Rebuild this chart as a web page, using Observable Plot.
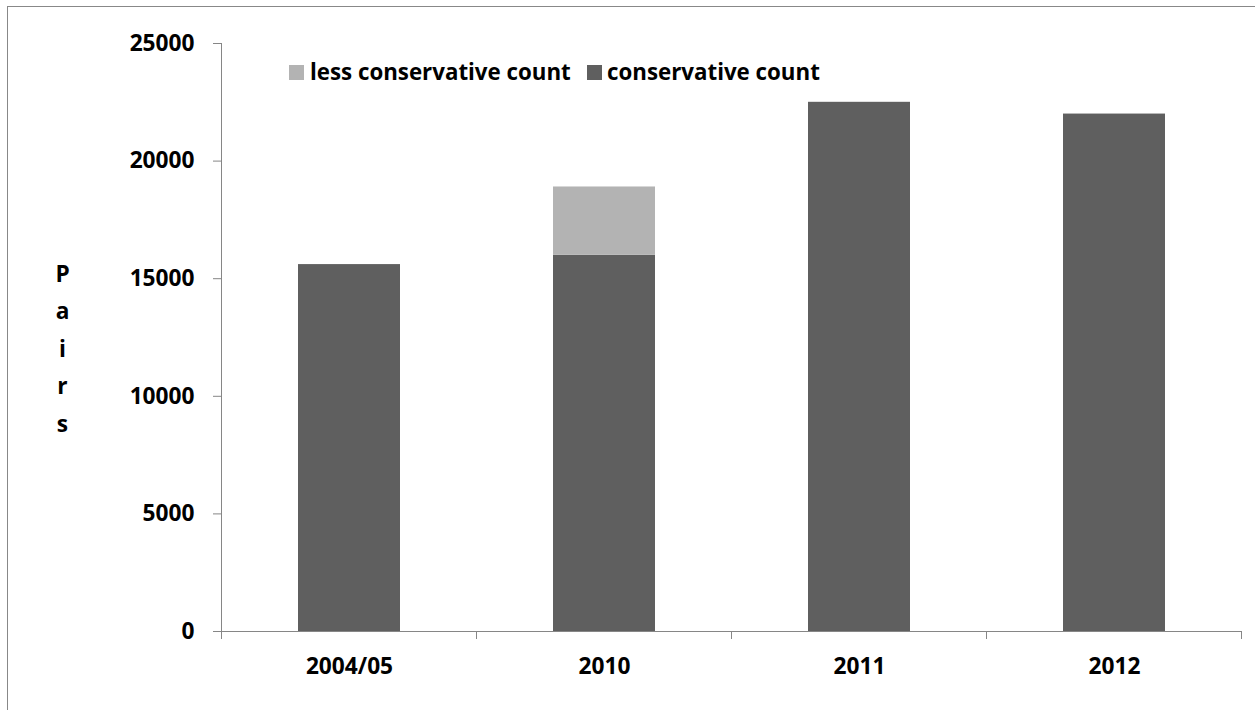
<!DOCTYPE html>
<html><head><meta charset="utf-8">
<script src="https://cdn.jsdelivr.net/npm/d3@7"></script>
<script src="https://cdn.jsdelivr.net/npm/@observablehq/plot@0.6"></script>
<style>
html,body{margin:0;padding:0;background:#fff;}
#wrap{position:relative;width:1255px;height:710px;overflow:hidden;}
#border{position:absolute;left:7px;top:6px;width:1300px;height:800px;border-left:1px solid #888;border-top:1px solid #888;pointer-events:none;}
</style></head><body>
<div id="wrap"><div id="border"></div></div>
<script>
const years = ["2004/05", "2010", "2011", "2012"];
const conservativeCount = [15600, 16000, 22500, 22000];
const lessConservativeExtra = [0, 2900, 0, 0];
const seriesNames = ["less conservative count", "conservative count"];
const seriesColors = ["#b3b3b3", "#5f5f5f"];
const yTicks = [0, 5000, 10000, 15000, 20000, 25000];
const yLabel = "Pairs";

const rows = [];
years.forEach((y, i) => rows.push({year: y, series: seriesNames[1], value: conservativeCount[i]}));
years.forEach((y, i) => rows.push({year: y, series: seriesNames[0], value: lessConservativeExtra[i]}));

const axisColor = "#868686";

const chart = Plot.plot({
  width: 1255, height: 710,
  marginLeft: 221, marginRight: 14, marginTop: 43, marginBottom: 79,
  style: {fontFamily: "'Open Sans', sans-serif", fontSize: "22.7px", fontWeight: "bold", color: "#000", background: "transparent"},
  x: {domain: years, paddingInner: 0.6, paddingOuter: 0.3, label: null},
  y: {domain: [0, 25000], ticks: yTicks, label: null},
  color: {domain: seriesNames, range: seriesColors},
  marks: [
    Plot.barY(rows, {x: "year", y: "value", fill: "series", order: [seriesNames[1], seriesNames[0]]}),
    Plot.frame({anchor: "left", stroke: axisColor}),
    Plot.ruleY([0], {stroke: axisColor}),
    Plot.axisY({ticks: yTicks, tickSize: 8, tickPadding: 19, stroke: axisColor, fill: "#000", tickFormat: d => String(d), label: null}),
    Plot.axisX({tickSize: 0, tickPadding: 26, label: null, fill: "#000"}),
    Plot.text([yLabel.split("").join("\n")], {frameAnchor: "left", dx: -159, dy: 7, lineHeight: 1.652, textAnchor: "middle", fill: "#000"})
  ]
});
document.getElementById("wrap").insertBefore(chart, document.getElementById("border"));

const svg = d3.select(chart);
const xs = chart.scale("x");
const ys = chart.scale("y");
const y0 = ys.apply(0);
const step = xs.step != null ? xs.step : xs.bandwidth / (1 - xs.paddingInner);
const gap = (step - xs.bandwidth) / 2;
const bounds = years.map(c => xs.apply(c) - gap).concat([xs.apply(years[years.length - 1]) + xs.bandwidth + gap]);
svg.append("g").selectAll("line").data(bounds).join("line")
  .attr("x1", d => d).attr("x2", d => d).attr("y1", y0).attr("y2", y0 + 8)
  .attr("stroke", axisColor);

// legend
const color = chart.scale("color");
const legendPos = [{sx: 289, tx: 310}, {sx: 587, tx: 607}];
const leg = svg.append("g").attr("font-size", "22.3px").attr("text-anchor", "start");
color.domain.forEach((name, i) => {
  leg.append("rect").attr("x", legendPos[i].sx).attr("y", 65).attr("width", 15).attr("height", 15).attr("fill", color.apply(name));
  leg.append("text").attr("x", legendPos[i].tx).attr("y", 80).attr("fill", "#000").attr("text-anchor", "start").text(name);
});
</script>
</body></html>
